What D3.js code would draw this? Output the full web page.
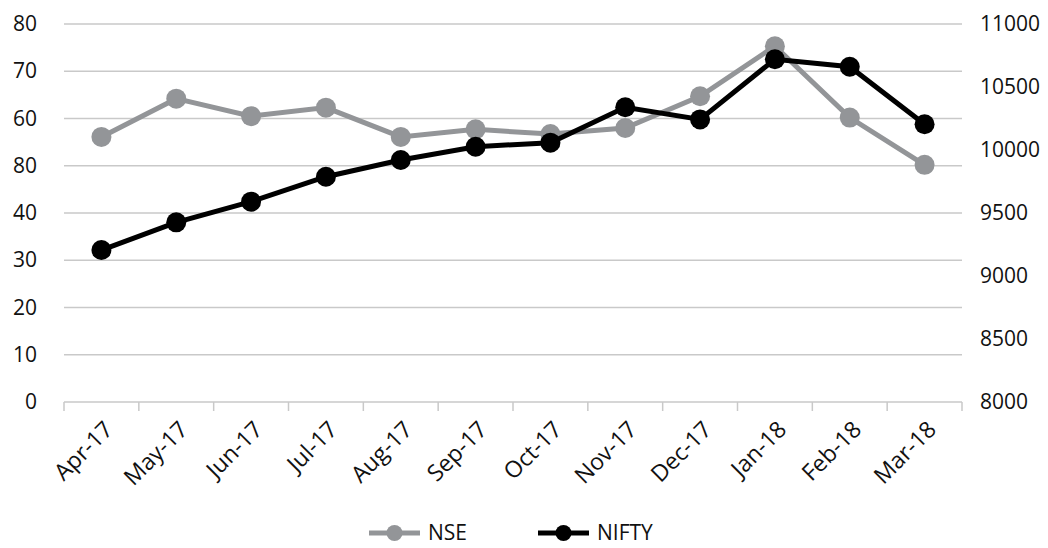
<!DOCTYPE html>
<html>
<head>
<meta charset="utf-8">
<style>
body { margin: 0; background: #fff; }
text { font-family: "Open Sans", sans-serif; fill: #111; }
.grid line { stroke: #c9c9c9; stroke-width: 1.5px; }
.axis line { stroke: #c9c9c9; stroke-width: 1.5px; }
</style>
</head>
<body>
<svg width="1048" height="548"></svg>
<script src="https://cdn.jsdelivr.net/npm/d3@7"></script>
<script>
var months = ["Apr-17","May-17","Jun-17","Jul-17","Aug-17","Sep-17","Oct-17","Nov-17","Dec-17","Jan-18","Feb-18","Mar-18"];
var nse = [56.1, 64.2, 60.5, 62.3, 56.1, 57.7, 56.7, 58.0, 64.7, 75.3, 60.2, 50.2];
var nifty = [9206, 9426, 9590, 9788, 9921, 10026, 10058, 10339, 10243, 10720, 10661, 10204];
var leftTicks = [0, 10, 20, 30, 40, 50, 60, 70, 80];
var leftLabels = ["0", "10", "20", "30", "40", "80", "60", "70", "80"]; // as printed
var rightTicks = [8000, 8500, 9000, 9500, 10000, 10500, 11000];

var svg = d3.select("svg");
var mLeft = 64, mRight = 962, mTop = 24, mBottom = 402;

var x = d3.scaleBand().domain(months).range([mLeft, mRight]);
var yL = d3.scaleLinear().domain([0, 80]).range([mBottom, mTop]);
var yR = d3.scaleLinear().domain([8000, 11000]).range([mBottom, mTop]);

// gridlines
svg.append("g")
    .attr("class", "grid")
  .selectAll("line")
  .data(leftTicks.slice(1))
  .enter().append("line")
    .attr("x1", mLeft).attr("x2", mRight)
    .attr("y1", function(d) { return yL(d); })
    .attr("y2", function(d) { return yL(d); });

// left axis labels
svg.append("g")
    .attr("transform", "translate(" + mLeft + ",0)")
    .call(d3.axisLeft(yL).tickValues(leftTicks).tickSize(0).tickPadding(27)
      .tickFormat(function(d, i) { return leftLabels[i]; }))
    .call(function(g) { g.select(".domain").remove(); })
    .selectAll("text").style("font-size", "21px").attr("fill", "#111");

// right axis labels
svg.append("g")
    .attr("transform", "translate(" + mRight + ",0)")
    .call(d3.axisRight(yR).tickValues(rightTicks).tickSize(0).tickPadding(18)
      .tickFormat(d3.format("d")))
    .call(function(g) { g.select(".domain").remove(); })
    .selectAll("text").style("font-size", "21px").attr("fill", "#111");

// bottom axis with ticks at band edges
var xAxis = svg.append("g").attr("class", "axis");
xAxis.append("line")
    .attr("x1", mLeft).attr("x2", mRight)
    .attr("y1", mBottom).attr("y2", mBottom);
xAxis.selectAll(".tk")
  .data(months.concat([null]))
  .enter().append("line")
    .attr("class", "tk")
    .attr("x1", function(d, i) { return mLeft + i * x.bandwidth(); })
    .attr("x2", function(d, i) { return mLeft + i * x.bandwidth(); })
    .attr("y1", mBottom).attr("y2", mBottom + 9);
xAxis.selectAll("text")
  .data(months)
  .enter().append("text")
    .attr("text-anchor", "end")
    .attr("transform", function(d) {
      return "translate(" + (x(d) + x.bandwidth() / 2 + 13) + "," + (mBottom + 29) + ") rotate(-45)";
    })
    .style("font-size", "23px")
    .text(function(d) { return d; });

function series(vals, y, color) {
  var line = d3.line()
      .x(function(d, i) { return x(months[i]) + x.bandwidth() / 2; })
      .y(function(d) { return y(d); });
  var g = svg.append("g");
  g.append("path")
      .datum(vals)
      .attr("fill", "none")
      .attr("stroke", color)
      .attr("stroke-width", 5)
      .attr("d", line);
  g.selectAll("circle")
    .data(vals)
    .enter().append("circle")
      .attr("cx", function(d, i) { return x(months[i]) + x.bandwidth() / 2; })
      .attr("cy", function(d) { return y(d); })
      .attr("r", 10)
      .attr("fill", color);
}

series(nse, yL, "#939598");
series(nifty, yR, "#000");

// legend
var legend = [
  {name: "NSE", color: "#939598", x: 369},
  {name: "NIFTY", color: "#000", x: 538}
];
var lg = svg.append("g").selectAll("g")
  .data(legend)
  .enter().append("g")
    .attr("transform", function(d) { return "translate(" + d.x + ",533)"; });
lg.append("line")
    .attr("x1", 0).attr("x2", 51)
    .attr("stroke", function(d) { return d.color; })
    .attr("stroke-width", 5);
lg.append("circle")
    .attr("cx", 25.5).attr("r", 8)
    .attr("fill", function(d) { return d.color; });
lg.append("text")
    .attr("x", 59).attr("dy", "0.35em")
    .style("font-size", "21px")
    .text(function(d) { return d.name; });
</script>
</body>
</html>
